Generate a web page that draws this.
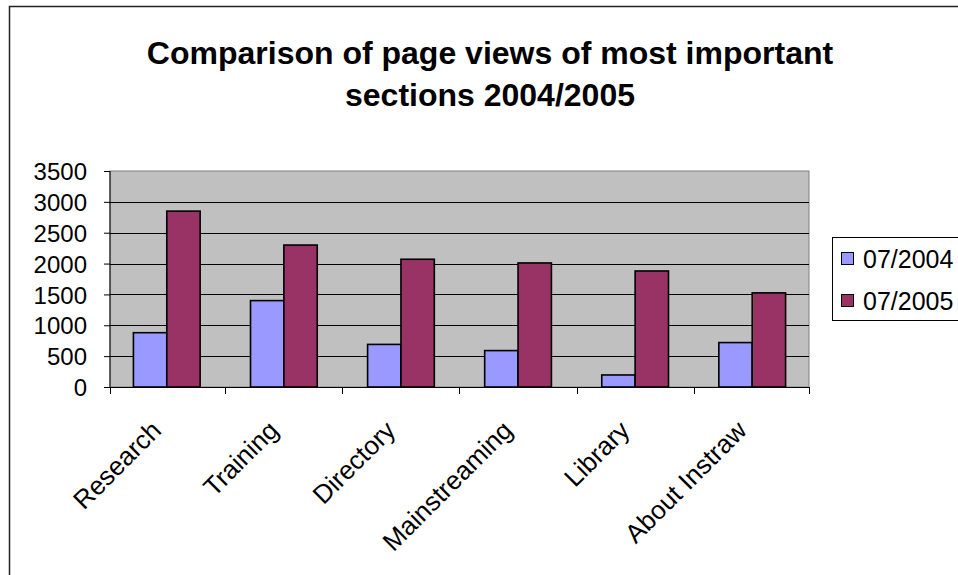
<!DOCTYPE html>
<html lang="en">
  <head>
    <meta charset="UTF-8" />
    <title>Comparison of page views</title>
    <script src="https://d3js.org/d3.v7.min.js"></script>
    <style>
      body {
        margin: 0;
        background: white;
        font-family: Arial, "Liberation Sans", sans-serif;
      }
      svg {
        display: block;
      }
    </style>
  </head>
  <body>
    <div id="chart"></div>
    <script>
      // data
      const categories = [
        "Research",
        "Training",
        "Directory",
        "Mainstreaming",
        "Library",
        "About Instraw",
      ];
      const series = ["07/2004", "07/2005"];
      const views2004 = [880, 1400, 690, 590, 195, 720];
      const views2005 = [2850, 2300, 2070, 2010, 1880, 1525];
      const yTicks = [0, 500, 1000, 1500, 2000, 2500, 3000, 3500];
      const colors = ["#9999ff", "#993366"];

      const width = 958;
      const height = 575;
      const plot = { left: 110, right: 809, top: 171, bottom: 387 };

      const rows = categories.map((c, i) => ({
        category: c,
        values: [views2004[i], views2005[i]],
      }));

      const svg = d3
        .select("#chart")
        .append("svg")
        .attr("width", width)
        .attr("height", height);

      // outer chart border
      svg
        .append("rect")
        .attr("x", 9.5)
        .attr("y", 6.5)
        .attr("width", 1000)
        .attr("height", 600)
        .attr("fill", "white")
        .attr("stroke", "#222")
        .attr("stroke-width", 1.5);

      const x0 = d3
        .scaleBand()
        .domain(categories)
        .range([plot.left, plot.right])
        .paddingInner(0.43)
        .paddingOuter(0.2);
      const x1 = d3
        .scaleBand()
        .domain(d3.range(series.length))
        .range([0, x0.bandwidth()]);
      const y = d3
        .scaleLinear()
        .domain([0, 3500])
        .range([plot.bottom, plot.top]);

      // plot area
      svg
        .append("rect")
        .attr("x", plot.left)
        .attr("y", plot.top)
        .attr("width", plot.right - plot.left)
        .attr("height", plot.bottom - plot.top)
        .attr("fill", "#c0c0c0")
        .attr("stroke", "#808080")
        .attr("stroke-width", 1);

      // gridlines
      svg
        .selectAll(".grid")
        .data(yTicks.filter((d) => d > 0 && d < 3500))
        .enter()
        .append("line")
        .attr("x1", plot.left)
        .attr("x2", plot.right)
        .attr("y1", (d) => Math.round(y(d)) + 0.5)
        .attr("y2", (d) => Math.round(y(d)) + 0.5)
        .attr("stroke", "#000")
        .attr("stroke-width", 1);

      // bars
      const groups = svg
        .selectAll(".group")
        .data(rows)
        .enter()
        .append("g")
        .attr("transform", (d) => `translate(${x0(d.category)},0)`);

      groups
        .selectAll("rect")
        .data((d) => d.values)
        .enter()
        .append("rect")
        .attr("x", (d, i) => x1(i))
        .attr("y", (d) => y(d))
        .attr("width", x1.bandwidth())
        .attr("height", (d) => y(0) - y(d))
        .attr("fill", (d, i) => colors[i])
        .attr("stroke", "#000")
        .attr("stroke-width", 1.6);

      // y axis
      const yAxis = d3
        .axisLeft(y)
        .tickValues(yTicks)
        .tickSize(6)
        .tickPadding(17)
        .tickFormat(d3.format("d"));
      const gy = svg
        .append("g")
        .attr("transform", `translate(${plot.left},0)`)
        .call(yAxis);
      gy.select(".domain").attr("stroke", "#000").attr("d", `M0,${plot.top}V${plot.bottom}`);
      gy.selectAll(".tick line").attr("stroke", "#000");
      gy.selectAll(".tick text")
        .attr("font-family", "Arial, 'Liberation Sans', sans-serif")
        .attr("font-size", 24)
        .attr("fill", "#000")
        .attr("dy", "0.36em");

      // x axis line and ticks at category boundaries
      svg
        .append("line")
        .attr("x1", plot.left)
        .attr("x2", plot.right)
        .attr("y1", plot.bottom + 0.5)
        .attr("y2", plot.bottom + 0.5)
        .attr("stroke", "#000");
      const bounds = categories.map((c) => x0(c) - (x0.step() - x0.bandwidth()) / 2);
      bounds.push(plot.right);
      bounds[0] = plot.left;
      svg
        .selectAll(".xtick")
        .data(bounds)
        .enter()
        .append("line")
        .attr("x1", (d) => Math.round(d) + 0.5)
        .attr("x2", (d) => Math.round(d) + 0.5)
        .attr("y1", plot.bottom)
        .attr("y2", plot.bottom + 7)
        .attr("stroke", "#000");

      // category labels, rotated
      svg
        .selectAll(".cat")
        .data(categories)
        .enter()
        .append("text")
        .attr("font-size", 26)
        .attr("text-anchor", "end")
        .attr("fill", "#000")
        .attr(
          "transform",
          (d) =>
            `translate(${x0(d) + x0.bandwidth() / 2 - 4},432) rotate(-45)`
        )
        .text((d) => d);

      // title
      ["Comparison of page views of most important", "sections 2004/2005"].forEach(
        (line, i) => {
          svg
            .append("text")
            .attr("text-anchor", "middle")
            .attr("font-weight", "bold")
            .attr("font-size", 32)
            .attr("fill", "#000")
            .attr("x", 490)
            .attr("y", 64 + i * 42)
            .text(line);
        }
      );

      // legend
      const legend = svg.append("g");
      legend
        .append("rect")
        .attr("x", 832.5)
        .attr("y", 237.5)
        .attr("width", 200)
        .attr("height", 83)
        .attr("fill", "white")
        .attr("stroke", "#000");
      const items = legend
        .selectAll(".item")
        .data(series)
        .enter()
        .append("g")
        .attr("transform", (d, i) => `translate(0,${259 + i * 42})`);
      items
        .append("rect")
        .attr("x", 841.5)
        .attr("y", -6.5)
        .attr("width", 12)
        .attr("height", 12)
        .attr("fill", (d, i) => colors[i])
        .attr("stroke", "#000");
      items
        .append("text")
        .attr("font-size", 25)
        .attr("fill", "#000")
        .attr("dy", "0.36em")
        .attr("x", 863)
        .text((d) => d);
    </script>
  </body>
</html>
